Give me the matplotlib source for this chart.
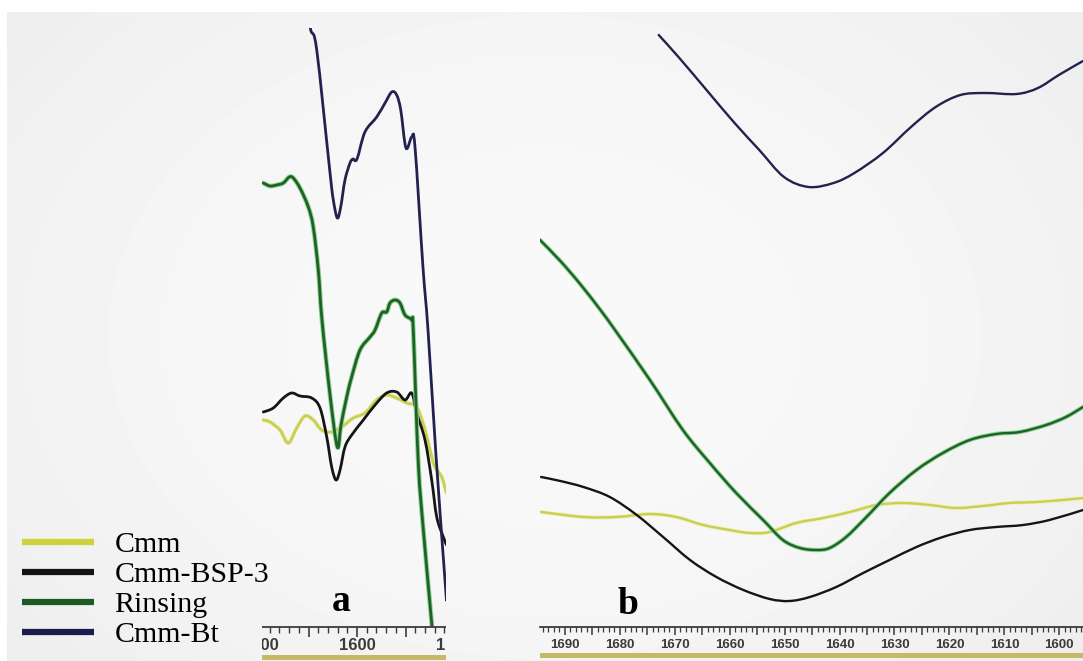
import numpy as np
import matplotlib
matplotlib.use("Agg")
import matplotlib.pyplot as plt
from matplotlib.patches import Rectangle, PathPatch
from matplotlib.path import Path
from matplotlib.lines import Line2D
from matplotlib import patheffects as pe

# ---- panel a: 1700-1500 cm-1 (wavenumber, intensity a.u.) ----
a_cmm_x = [1696.6, 1689.7, 1679.4, 1670.8, 1662.2, 1653.6, 1645.1, 1636.4, 1626.1, 1615.8,
           1603.8, 1591.8, 1579.7, 1569.4, 1559.1, 1548.8, 1538.5, 1529.9, 1523.0, 1519.6,
           1512.7, 1507.7]
a_cmm_y = [207, 205, 197, 184, 199, 211, 207, 197, 195, 200,
           209, 214, 227, 232, 229, 224, 220, 197, 170, 160,
           150, 134]

a_bsp_x = [1696.6, 1686.3, 1676.0, 1667.3, 1658.8, 1646.7, 1638.1, 1631.2, 1626.1, 1621.6,
           1617.5, 1612.4, 1605.5, 1593.5, 1581.4, 1569.4, 1559.1, 1550.5, 1543.6, 1538.5,
           1529.9, 1523.0, 1517.8, 1511.0, 1507.7]
a_bsp_y = [215, 219, 229, 234, 231, 229, 219, 190, 160, 147,
           157, 180, 192, 207, 222, 234, 235, 227, 234, 214,
           187, 147, 110, 90, 82]

a_rin_x = [1696.6, 1689.7, 1682.8, 1676.0, 1669.8, 1665.7, 1658.8, 1650.2, 1645.1, 1639.9,
           1636.1, 1627.8, 1620.3, 1616.5, 1610.6, 1605.5, 1596.9, 1586.6, 1581.4, 1574.5,
           1569.4, 1566.0, 1560.8, 1555.7, 1550.5, 1543.6, 1542.0, 1536.8, 1531.6, 1523.0,
           1520.6]
a_rin_y = [444, 441, 442, 444, 450, 449, 439, 420, 400, 357,
           307, 232, 180, 202, 230, 250, 277, 290, 297, 314,
           315, 324, 327, 324, 312, 307, 297, 164, 97, 4,
           -23]

a_bt_x = [1652.6, 1647.7, 1641.5, 1627.8, 1624.4, 1620.3, 1616.8, 1612.4, 1607.2, 1604.1,
          1600.0, 1591.8, 1579.7, 1571.1, 1564.2, 1559.1, 1554.9, 1549.5, 1543.6, 1540.2,
          1532.0, 1526.8, 1518.6, 1509.3, 1507.7]
a_bt_y = [622, 597, 577, 454, 427, 409, 420, 447, 464, 468,
          468, 495, 510, 524, 535, 532, 517, 479, 490, 480,
          360, 297, 172, 47, 27]

# ---- panel b: 1695-1595 cm-1 ----
b_cmm_x = [1694.3, 1686.6, 1680.6, 1674.5, 1669.7, 1664.8, 1660.0, 1656.3, 1652.7, 1647.9,
           1643.0, 1638.1, 1633.3, 1628.5, 1623.6, 1618.8, 1613.9, 1609.1, 1604.2, 1599.4,
           1595.7]
b_cmm_y = [115, 110, 110, 113, 110, 102, 97, 94, 95, 104,
           109, 115, 122, 124, 122, 119, 121, 124, 125, 127,
           129]

b_bsp_x = [1694.3, 1690.8, 1686.6, 1681.8, 1676.9, 1672.1, 1667.2, 1662.4, 1657.5, 1652.7,
           1649.1, 1645.4, 1640.6, 1635.7, 1630.9, 1626.0, 1621.2, 1616.3, 1611.5, 1606.6,
           1601.8, 1595.7]
b_bsp_y = [150, 146, 140, 130, 112, 90, 67, 50, 37, 28,
           26, 30, 40, 54, 67, 80, 90, 97, 100, 102,
           107, 117]

b_rin_x = [1694.5, 1690.8, 1687.2, 1683.5, 1680.6, 1674.5, 1668.5, 1663.6, 1658.8, 1653.9,
           1650.3, 1647.2, 1644.2, 1641.8, 1638.8, 1635.1, 1630.9, 1626.0, 1621.2, 1616.3,
           1611.5, 1607.2, 1602.4, 1598.8, 1595.7]
b_rin_y = [387, 366, 343, 317, 295, 247, 197, 164, 134, 107,
           87, 79, 77, 79, 90, 110, 134, 157, 174, 187,
           193, 195, 202, 210, 220]

b_bt_x = [1672.9, 1669.3, 1664.2, 1659.1, 1654.6, 1650.1, 1645.6, 1641.1, 1637.3, 1632.1,
          1627.0, 1622.5, 1618.0, 1613.5, 1607.8, 1603.9, 1600.1, 1595.7]
b_bt_y = [592, 570, 537, 504, 477, 450, 440, 444, 454, 474,
          500, 520, 532, 534, 533, 539, 552, 566]

labels = ["Cmm", "Cmm-BSP-3", "Rinsing", "Cmm-Bt"]
colors = ["#c9cf4e", "#151515", "#1f6129", "#22224f"]
legend_colors = ["#cdd23c", "#141414", "#1d5a26", "#1c1c4c"]

W, H = 1083, 661
fig = plt.figure(figsize=(W / 100, H / 100), dpi=100)
fig.patch.set_facecolor("white")

# grey photographed background, a little brighter in the middle
bg = fig.add_axes([0, 0, 1, 1], zorder=-5)
bg.axis("off")
gx = np.linspace(-1, 1, 200)
gy = np.linspace(-1, 1, 120)
gxx, gyy = np.meshgrid(gx, gy)
grad = 0.975 - 0.045 * (0.6 * gxx ** 2 + 0.4 * gyy ** 2)
bg.imshow(grad, cmap="gray", vmin=0, vmax=1, aspect="auto",
          extent=[7 / W, 1, 0, 1 - 12 / H], interpolation="bicubic")
bg.set_xlim(0, 1)
bg.set_ylim(0, 1)

tick_font = {"family": ["Liberation Sans Narrow", "Liberation Sans"], "weight": "bold"}


def fx(px):
    return px / W


def fy(py):
    return 1 - py / H


def smooth_path(x, y):
    # Catmull-Rom through the read points, drawn as cubic Bezier segments
    p = np.column_stack([x, y]).astype(float)
    n = len(p)
    verts = [p[0]]
    codes = [Path.MOVETO]
    for i in range(n - 1):
        p0 = p[i - 1] if i > 0 else p[i]
        p1, p2 = p[i], p[i + 1]
        p3 = p[i + 2] if i + 2 < n else p[i + 1]
        verts += [p1 + (p2 - p0) / 6, p2 - (p3 - p1) / 6, p2]
        codes += [Path.CURVE4] * 3
    return Path(verts, codes)


ax_a = fig.add_axes([fx(260), fy(627), (454 - 260) / W, 599 / H])
ax_b = fig.add_axes([fx(540), fy(627), 543 / W, 599 / H])

# panel a is cut on both sides, like the cropped original
clip_a_lines = Rectangle((fx(262), fy(627)), (446 - 262) / W, 599 / H,
                         transform=fig.transFigure)
clip_a_axis = Rectangle((fx(262), 0), (446 - 262) / W, 1, transform=fig.transFigure)

series_a = [(a_cmm_x, a_cmm_y), (a_bsp_x, a_bsp_y), (a_rin_x, a_rin_y), (a_bt_x, a_bt_y)]
series_b = [(b_cmm_x, b_cmm_y), (b_bsp_x, b_bsp_y), (b_rin_x, b_rin_y), (b_bt_x, b_bt_y)]

for ax, series, lw in [(ax_a, series_a, 2.0), (ax_b, series_b, 1.7)]:
    ax.set_ylim(0, 599)
    for (x, y), c, lab in zip(series, colors, labels):
        effects = None
        if lab == "Rinsing":
            effects = [pe.Stroke(linewidth=lw + 1.4, foreground="#8fd48f"), pe.Normal()]
        elif lab == "Cmm":
            effects = [pe.Stroke(linewidth=lw + 1.2, foreground="#eef0c0"), pe.Normal()]
        patch = PathPatch(smooth_path(x, y), fill=False, edgecolor=c, lw=lw,
                          joinstyle="round", capstyle="round", path_effects=effects)
        ax.add_patch(patch)
        if ax is ax_a:
            patch.set_clip_path(clip_a_lines)
    ax.set_facecolor("none")
    for s in ["left", "right", "top"]:
        ax.spines[s].set_visible(False)
    ax.spines["bottom"].set_color("#3a3a3a")
    ax.spines["bottom"].set_linewidth(1.3)
    ax.set_yticks([])

# panel a axis
ax_a.set_xlim(1700, 1500)
ax_a.set_ylim(0, 599)
ax_a.set_xticks([1700, 1650, 1600, 1550, 1500])
ax_a.set_xticklabels(["1700", "", "1600", "", "1500"], fontdict=tick_font, fontsize=12,
                     color="#3a3a3a")
ax_a.set_xticks(np.arange(1500, 1701, 10), minor=True)
ax_a.tick_params(axis="x", which="major", length=7, width=1.2, color="#3a3a3a", pad=1)
ax_a.tick_params(axis="x", which="minor", length=4, width=1.0, color="#3a3a3a")
ax_a.spines["bottom"].set_clip_path(clip_a_axis)
for t in ax_a.xaxis.get_major_ticks() + ax_a.xaxis.get_minor_ticks():
    t.label1.set_clip_path(clip_a_axis)
    t.tick1line.set_clip_path(clip_a_axis)

# panel b axis
ax_b.set_xlim(1694.5, 1595.7)
ax_b.set_ylim(0, 599)
major_b = np.arange(1600, 1691, 5)
ax_b.set_xticks(major_b)
ax_b.set_xticklabels([str(v) if v % 10 == 0 else "" for v in major_b], fontdict=tick_font,
                     fontsize=9.5, color="#3a3a3a")
ax_b.set_xticks(np.arange(1596, 1695, 1), minor=True)
ax_b.tick_params(axis="x", which="major", length=6, width=1.1, color="#3a3a3a", pad=3)
ax_b.tick_params(axis="x", which="minor", length=3.5, width=0.9, color="#3a3a3a")

# olive bars under the axes
bar_a = Rectangle((0, -(660 - 627) / 599), 1, 5 / 599, transform=ax_a.transAxes,
                  facecolor="#c6b866", edgecolor="none")
ax_a.add_patch(bar_a)
bar_a.set_clip_path(clip_a_axis)
ax_b.add_patch(Rectangle((0, -(658 - 627) / 599), 1, 5 / 599, transform=ax_b.transAxes,
                         facecolor="#c6b866", edgecolor="none", clip_on=False))

# panel letters
fig.text(fx(341), fy(611), "a", family="Liberation Serif", weight="bold", fontsize=27,
         ha="center", va="baseline")
fig.text(fx(628), fy(614), "b", family="Liberation Serif", weight="bold", fontsize=27,
         ha="center", va="baseline")

# legend
handles = [Line2D([], [], color=c, lw=4.5, solid_capstyle="butt") for c in legend_colors]
fig.legend(handles, labels, loc="lower left", bbox_to_anchor=(fx(22), fy(648)),
           frameon=False, prop={"family": "Liberation Serif", "size": 21.5},
           handlelength=2.4, handletextpad=0.7, labelspacing=0.1,
           borderpad=0, borderaxespad=0)

fig.savefig("out.png", dpi=100, facecolor=fig.get_facecolor())
